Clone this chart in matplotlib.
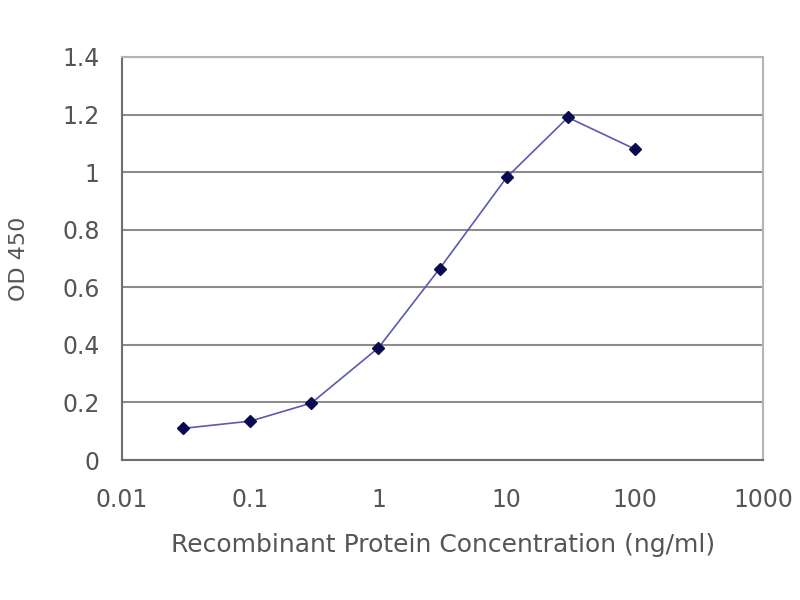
import matplotlib
matplotlib.use("Agg")
import matplotlib.pyplot as plt

# concentrations (ng/ml) and OD450 readings
conc = [0.03, 0.1, 0.3, 1, 3, 10, 30, 100]
od450 = [0.11, 0.135, 0.198, 0.39, 0.665, 0.982, 1.19, 1.08]
x_ticks = [0.01, 0.1, 1, 10, 100, 1000]
x_tick_labels = ['0.01', '0.1', '1', '10', '100', '1000']
y_ticks = [0, 0.2, 0.4, 0.6, 0.8, 1, 1.2, 1.4]
y_tick_labels = ['0', '0.2', '0.4', '0.6', '0.8', '1', '1.2', '1.4']

plt.rcParams['font.family'] = ['DejaVu Sans']

fig = plt.figure(figsize=(8, 6), dpi=100)
ax = fig.add_axes([0.1525, 0.2333, 0.8015, 0.6717])

ax.plot(conc, od450, '-', color='#5a5ab0', linewidth=1.2, zorder=3)
ax.plot(conc, od450, 'D', color='#0a0a50', markersize=6, zorder=4)

ax.set_xscale('log')
ax.set_xlim(0.01, 1000)
ax.set_ylim(0, 1.4)
ax.set_xticks(x_ticks)
ax.set_xticklabels(x_tick_labels)
ax.minorticks_off()
ax.set_yticks(y_ticks)
ax.set_yticklabels(y_tick_labels)

ax.grid(axis='y', color='#8c8c8c', linewidth=1.5)
ax.set_axisbelow(True)
for s in ['top', 'right']:
    ax.spines[s].set_color('#b4b4b4')
    ax.spines[s].set_linewidth(1.5)
for s in ['left', 'bottom']:
    ax.spines[s].set_color('#6e6e6e')
    ax.spines[s].set_linewidth(1.5)

ax.tick_params(axis='both', labelsize=17, colors='#555555', length=0)
ax.tick_params(axis='y', pad=16)
ax.tick_params(axis='x', pad=20)
ax.set_xlabel('Recombinant Protein Concentration (ng/ml)', fontsize=18,
              color='#555555', labelpad=15)
ax.set_ylabel('OD 450', fontsize=16, color='#555555', labelpad=24)

fig.savefig('out.png', dpi=100)
